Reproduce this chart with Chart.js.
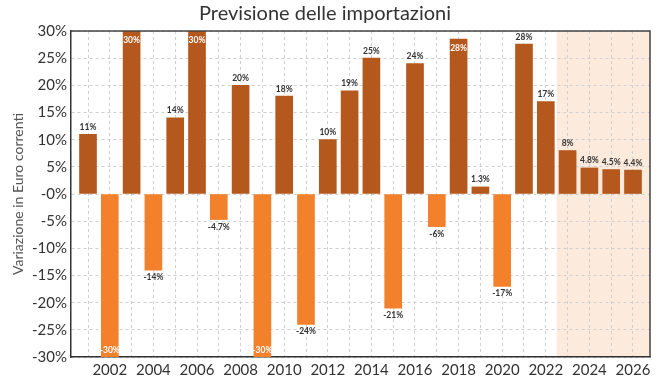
<!DOCTYPE html>
<html><head><meta charset="utf-8">
<script src="https://cdn.jsdelivr.net/npm/chart.js@4.4.0/dist/chart.umd.min.js"></script>
<style>html,body{margin:0;padding:0;background:#fff}#wrap{width:656px;height:389px}</style>
</head><body><div id="wrap"><canvas id="c" width="656" height="389"></canvas></div>
<script>
const years = [2001,2002,2003,2004,2005,2006,2007,2008,2009,2010,2011,2012,2013,2014,2015,2016,2017,2018,2019,2020,2021,2022,2023,2024,2025,2026];
const values = [11,-30,30,-14,14,30,-4.7,20,-30,18,-24,10,19,25,-21,24,-6,28.5,1.3,-17,27.6,17,8,4.8,4.5,4.4];
const valueLabels = ['11%','-30%','30%','-14%','14%','30%','-4.7%','20%','-30%','18%','-24%','10%','19%','25%','-21%','24%','-6%','28%','1.3%','-17%','28%','17%','8%','4.8%','4.5%','4.4%'];
const forecastStart = 2022.5;
const yTicks = [-30,-25,-20,-15,-10,-5,0,5,10,15,20,25,30];

const POS = '#B5581E', NEG = '#F3802A';
const FONT = 'Lato, "Open Sans", sans-serif';

const shade = {
  id:'shade',
  beforeDraw(chart){
    const {ctx, chartArea:a, scales:{x}} = chart;
    const x0 = x.getPixelForValue(forecastStart);
    ctx.save();
    ctx.fillStyle = '#FCEBDD';
    ctx.fillRect(x0, a.top, a.right - x0, a.bottom - a.top);
    ctx.restore();
  }
};
const labels = {
  id:'labels',
  afterDatasetsDraw(chart){
    const {ctx, chartArea:a} = chart;
    const meta = chart.getDatasetMeta(0);
    ctx.save();
    ctx.font = 'bold 8.5px ' + FONT;
    ctx.textAlign = 'center';
    meta.data.forEach((el,i)=>{
      const v = values[i];
      const txt = valueLabels[i];
      if (v >= 0 && el.y - a.top < 10) {
        ctx.fillStyle = '#ffffff';
        ctx.textBaseline = 'middle';
        ctx.fillText(txt, el.x, Math.max(el.y, a.top) + 9);
      } else if (v < 0 && a.bottom - el.y < 10) {
        ctx.fillStyle = '#ffffff';
        ctx.textBaseline = 'middle';
        ctx.fillText(txt, el.x, Math.min(el.y, a.bottom) - 7);
      } else if (v >= 0) {
        ctx.fillStyle = '#333333';
        ctx.textBaseline = 'bottom';
        ctx.fillText(txt, el.x, el.y - 3);
      } else {
        ctx.fillStyle = '#333333';
        ctx.textBaseline = 'top';
        ctx.fillText(txt, el.x, el.y + 3);
      }
    });
    ctx.strokeStyle = '#444';
    ctx.lineWidth = 1.5;
    ctx.beginPath();
    ctx.moveTo(a.left, a.top); ctx.lineTo(a.right, a.top); ctx.lineTo(a.right, a.bottom);
    ctx.stroke();
    ctx.restore();
  }
};

new Chart(document.getElementById('c'), {
  type:'bar',
  data:{
    datasets:[{
      data: years.map((y,i)=>({x:y, y:values[i]})),
      backgroundColor: values.map(v => v >= 0 ? POS : NEG),
      barThickness: 17,
      borderWidth: 0
    }]
  },
  options:{
    responsive:false,
    animation:false,
    layout:{padding:{left:0,right:6,top:0,bottom:0}},
    plugins:{
      legend:{display:false},
      tooltip:{enabled:false},
      title:{display:true, text:'Previsione delle importazioni', color:'#333',
        font:{family:FONT, size:20, weight:'normal'}, padding:{top:2,bottom:5}}
    },
    scales:{
      x:{
        type:'linear', min:2000.22, max:2026.78, offset:false,
        afterFit(s){ s.height = 32; },
        ticks:{stepSize:1, includeBounds:false, autoSkip:false, maxRotation:0, color:'#333',
          font:{family:FONT, size:15}, padding:4,
          callback:(v)=> (v % 2 === 0 ? String(v) : '')},
        grid:{color:'#cfcfcf', drawTicks:false, offset:false},
        border:{color:'#333', width:1.5, dash:[3,3]}
      },
      y:{
        min:-30, max:30,
        afterFit(s){ s.width = 71; },
        afterBuildTicks(s){ s.ticks = yTicks.map(v=>({value:v})); },
        ticks:{color:'#333', font:{family:FONT, size:15}, padding:4,
          callback:(v)=> v === 0 ? '-0%' : v + '%'},
        grid:{color:'#cfcfcf', drawTicks:false},
        border:{color:'#333', width:1.5, dash:[3,3]},
        title:{display:true, text:'Variazione in Euro correnti', color:'#555',
          font:{family:FONT, size:14}, padding:{top:10,bottom:0}}
      }
    }
  },
  plugins:[shade, labels]
});
</script></body></html>
